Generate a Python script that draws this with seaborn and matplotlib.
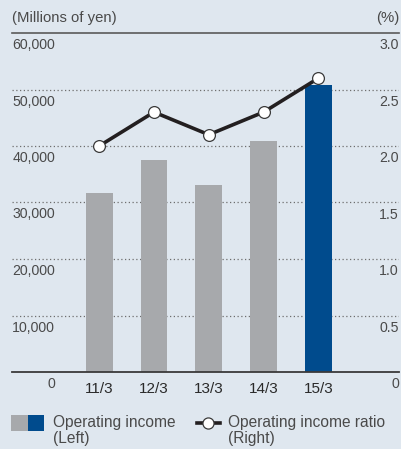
import matplotlib
matplotlib.use("Agg")
import matplotlib.pyplot as plt
import matplotlib.transforms as mtransforms
from matplotlib.patches import Rectangle
from matplotlib.lines import Line2D
import seaborn as sns

plt.rcParams["font.family"] = ["Liberation Sans", "DejaVu Sans"]

# Fiscal periods and values
periods = ["11/3", "12/3", "13/3", "14/3", "15/3"]
operating_income = [31700, 37500, 33100, 40900, 50800]   # millions of yen (left)
income_ratio = [2.0, 2.3, 2.1, 2.3, 2.6]                 # % (right)
left_ticks = [0, 10000, 20000, 30000, 40000, 50000, 60000]
left_labels = ["0", "10,000", "20,000", "30,000", "40,000", "50,000", "60,000"]
right_ticks = [0, 0.5, 1.0, 1.5, 2.0, 2.5, 3.0]
right_labels = ["0", "0.5", "1.0", "1.5", "2.0", "2.5", "3.0"]

BG = "#dfe7ef"
GRAY = "#a7a9ac"
BLUE = "#004b8d"
INK = "#231f20"
TXT = "#4a4a4a"

W, H = 402, 449
fig = plt.figure(figsize=(W / 100, H / 100), dpi=100, facecolor=BG)
ax = fig.add_axes([12 / W, 77 / H, 387 / W, 339 / H])
ax.set_facecolor(BG)

palette = [GRAY] * 4 + [BLUE]
sns.barplot(x=periods, y=operating_income, hue=periods, palette=palette,
            saturation=1, width=0.49, legend=False, ax=ax, zorder=2)

# dotted guide lines
for v in left_ticks[1:-1]:
    ax.axhline(v, color="#6e6e6e", lw=0.9, ls=(0, (1, 2)), zorder=1)
ax.axhline(60000, color="#5a5a5a", lw=1.2, zorder=1, clip_on=False)
ax.axhline(0, color="#3a3a3a", lw=1.3, zorder=3, clip_on=False)

ax2 = ax.twinx()
sns.pointplot(x=periods, y=income_ratio, ax=ax2, color=INK, errorbar=None,
              markers="o", linewidth=2.6, markersize=8.5,
              markerfacecolor="white", markeredgecolor="#3a3a3a",
              markeredgewidth=0.9)

for a in (ax, ax2):
    a.set_xlim(-1.59, 5.47)
    for s in a.spines.values():
        s.set_visible(False)
    a.set_ylabel("")
    a.set_xlabel("")
ax.set_ylim(0, 60000)
ax2.set_ylim(0, 3.0)
ax.set_yticks([])
ax2.set_yticks([])
ax2.set_xticks([])
ax.set_xticks(range(len(periods)))
ax.set_xticklabels(periods, fontsize=11, color="#2a2a2a")
ax.tick_params(axis="x", length=0, pad=7)

# axis value labels sit just below their guide lines
left_tr = mtransforms.offset_copy(ax.get_yaxis_transform(), fig=fig, x=0, y=-12, units="dots")
for v, lab in zip(left_ticks, left_labels):
    ax.text((55 - 12) / 387, v, lab, transform=left_tr, ha="right", va="center",
            fontsize=10.2, color=TXT)
right_tr = mtransforms.offset_copy(ax2.get_yaxis_transform(), fig=fig, x=0, y=-12, units="dots")
for v, lab in zip(right_ticks, right_labels):
    ax2.text(1.0, v, lab, transform=right_tr, ha="right", va="center",
             fontsize=10.2, color=TXT)

fig.text(12 / W, 1 - 18 / H, "(Millions of yen)", ha="left", va="center", fontsize=10.7, color=TXT)
fig.text(399 / W, 1 - 18 / H, "(%)", ha="right", va="center", fontsize=10.7, color=TXT)

# legend
fig.patches.append(Rectangle((11 / W, 1 - 431 / H), 17 / W, 16 / H, transform=fig.transFigure,
                             facecolor=GRAY, edgecolor="none"))
fig.patches.append(Rectangle((28 / W, 1 - 431 / H), 16 / W, 16 / H, transform=fig.transFigure,
                             facecolor=BLUE, edgecolor="none"))
fig.text(53 / W, 1 - 422 / H, "Operating income", ha="left", va="center", fontsize=11.2, color=TXT)
fig.text(53 / W, 1 - 439 / H, "(Left)", ha="left", va="center", fontsize=11.2, color=TXT)
fig.lines.append(Line2D([197 / W, 220 / W], [1 - 423 / H, 1 - 423 / H], transform=fig.transFigure,
                        color=INK, lw=2.6))
fig.lines.append(Line2D([208.5 / W], [1 - 423 / H], transform=fig.transFigure, marker="o",
                        markersize=8, markerfacecolor="white", markeredgecolor="#3a3a3a",
                        markeredgewidth=0.9, lw=0))
fig.text(228 / W, 1 - 422 / H, "Operating income ratio", ha="left", va="center", fontsize=11.2, color=TXT)
fig.text(228 / W, 1 - 439 / H, "(Right)", ha="left", va="center", fontsize=11.2, color=TXT)

fig.savefig("out.png", dpi=100, facecolor=BG)
